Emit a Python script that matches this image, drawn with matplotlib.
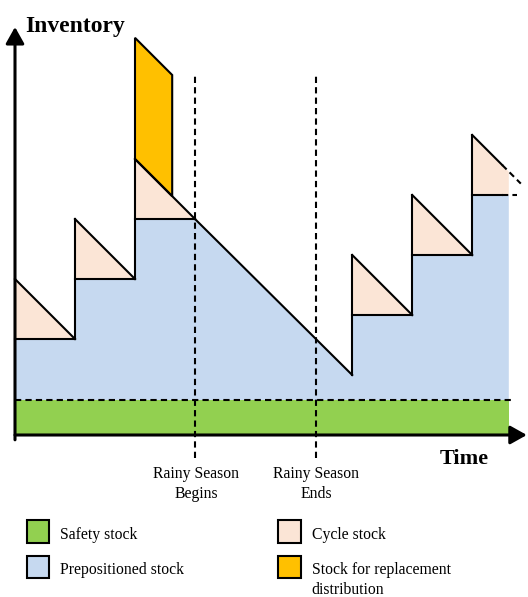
import matplotlib.pyplot as plt
from matplotlib.patches import Polygon, Rectangle

plt.rcParams["font.family"] = ["Liberation Serif", "DejaVu Serif"]

# Zeitachse: eine Bestellperiode = 1, Bestand in Bestelleinheiten
safety_level = 0.58
step_times = [0.0, 1.0, 2.0, 5.62, 6.62, 7.62]
step_base = [1.6, 2.6, 3.6, 2.0, 3.0, 4.0]
cycle_qty = [1.0, 1.0, 1.0, 1.0, 1.0, 1.0]
replacement_time = 2.0
replacement_qty = 2.02
replacement_end = 2.62
trough_level = 1.0
season_begin = 3.0
season_end = 5.02
horizon = 8.23
solid_end = 8.12
dash_end = 8.43

legend_labels = ["Safety stock", "Prepositioned stock", "Cycle stock",
                 "Stock for replacement\ndistribution"]

# Farben
green = "#92D050"
blue = "#C6D9F0"
peach = "#FBE5D6"
orange = "#FFC000"
legend_colors = [green, blue, peach, orange]

fig = plt.figure(figsize=(5.28, 5.97), dpi=100)
ax = fig.add_axes([0, 0, 1, 1])
ax.set_xlim(-0.25, 8.55)
ax.set_ylim(-2.7, 7.25)
ax.axis("off")

# Vorpositionierter Bestand (blau) - obere Kante
top = [(0, safety_level)]
for i in range(3):
    top += [(step_times[i], step_base[i]), (step_times[i] + 1, step_base[i])]
top.append((step_times[3], trough_level))
for i in range(3, 6):
    top += [(step_times[i], step_base[i]), (min(step_times[i] + 1, horizon), step_base[i])]
top.append((horizon, safety_level))
ax.add_patch(Polygon(top, closed=True, facecolor=blue, edgecolor="none", zorder=1))

# Sicherheitsbestand
ax.fill_between([0, horizon], 0, safety_level, color=green, lw=0, zorder=1)

# Zyklusbestand (Dreiecke)
for t, b, q in zip(step_times, step_base, cycle_qty):
    end = min(t + q, horizon)
    tri = [(t, b), (t, b + q), (end, b + q - (end - t)), (end, b)]
    ax.add_patch(Polygon(tri, closed=True, facecolor=peach, edgecolor="none", zorder=2))

# Bestand fuer Ersatzverteilung
rb = step_base[2] + cycle_qty[2]
dur = replacement_end - replacement_time
rep = [(replacement_time, rb), (replacement_time, rb + replacement_qty),
       (replacement_end, rb + replacement_qty - dur), (replacement_end, rb - dur)]
ax.add_patch(Polygon(rep, closed=True, facecolor=orange, edgecolor="black", lw=1.5, zorder=3))

# Umrisslinien
lw = 1.5
prev_levels = [None, step_base[0], step_base[1], trough_level, step_base[3], step_base[4]]
for i, (t, b, q) in enumerate(zip(step_times, step_base, cycle_qty)):
    if prev_levels[i] is not None:
        ax.plot([t, t], [prev_levels[i], b + q], color="black", lw=lw, zorder=3)
    if i < 5:
        ax.plot([t, t + q], [b + q, b], color="black", lw=lw, zorder=3)
        ax.plot([t, t + 1], [b, b], color="black", lw=lw, zorder=3)
    else:
        ax.plot([t, solid_end], [b + q, b + q - (solid_end - t)], color="black", lw=lw, zorder=3)
        ax.plot([solid_end, dash_end], [b + q - (solid_end - t), b + q - (dash_end - t)],
                color="black", lw=lw, ls=(0, (3, 2)), zorder=3)
        ax.plot([t, solid_end], [b, b], color="black", lw=lw, zorder=3)
        ax.plot([solid_end, 8.37], [b, b], color="black", lw=lw, ls=(0, (3, 2)), zorder=3)

# Abbau waehrend der Regenzeit
ax.plot([step_times[2] + 1, step_times[3]], [step_base[2], trough_level],
        color="black", lw=lw, zorder=3)

# Gestrichelte Linien
ax.plot([0, 8.33], [safety_level, safety_level], color="black", lw=lw, ls=(0, (3, 2)), zorder=4)
for s in [season_begin, season_end]:
    ax.plot([s, s], [-0.38, 6.0], color="black", lw=lw, ls=(0, (3, 2)), zorder=4)

# Achsen mit Pfeilen
arrow = dict(arrowstyle="-|>,head_length=0.5,head_width=0.28", lw=2.2,
             color="black", mutation_scale=20, shrinkA=0, shrinkB=0)
ax.annotate("", xy=(0, 6.8), xytext=(0, -0.08), arrowprops=arrow, zorder=5)
ax.annotate("", xy=(8.53, 0), xytext=(0, 0), arrowprops=arrow, zorder=5)

# Beschriftung
ax.text(0.17, 6.72, "Inventory", fontsize=17, fontweight="bold", va="baseline")
ax.text(7.07, -0.48, "Time", fontsize=16, fontweight="bold", va="baseline")
ax.text(season_begin + 0.02, -1.05, "Rainy Season\nBegins", fontsize=11.3,
        ha="center", va="baseline", linespacing=1.3)
ax.text(season_end, -1.05, "Rainy Season\nEnds", fontsize=11.3,
        ha="center", va="baseline", linespacing=1.3)

# Legende
for k, (lab, col) in enumerate(zip(legend_labels, legend_colors)):
    x0 = 0.193 if k < 2 else 4.385
    y0 = -1.798 if k % 2 == 0 else -2.39
    ax.add_patch(Rectangle((x0, y0), 0.38, 0.38, facecolor=col, edgecolor="black", lw=1.5))
    extra = lab.count("\n") * 0.32
    ax.text(x0 + 0.56, y0 + 0.065 - extra, lab, fontsize=11.3, va="baseline", linespacing=1.3)

plt.savefig("out.png", dpi=100)
